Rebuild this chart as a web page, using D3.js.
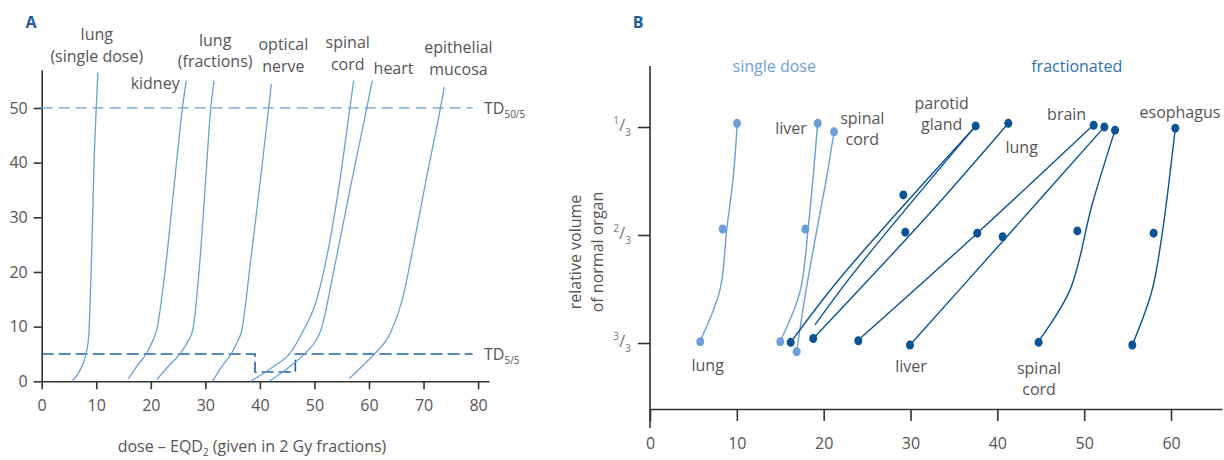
<!DOCTYPE html>
<html>
<head>
<meta charset="utf-8">
<script src="https://cdn.jsdelivr.net/npm/d3@7"></script>
<style>
body{margin:0;background:#fff;}
svg{display:block;font-family:"Open Sans",sans-serif;}
.lbl{fill:#555;font-size:16px;}
.axis path,.axis line{stroke:#333;stroke-width:1.6;}
.axis text{fill:#555;font-size:16px;font-family:"Open Sans",sans-serif;}
</style>
</head>
<body>
<svg id="chart" width="1224" height="460"></svg>
<script>
// ---- panel A: complication probability (%) vs dose EQD2 ----
var lungSingleA   = [[5.6,0],[7,2],[8,4.5],[8.6,8],[8.9,15],[9.2,25],[9.6,40],[10,50],[10.3,56.5]];
var kidneyA       = [[15.9,0.5],[17.4,2.7],[19.2,5.1],[20.4,7.5],[21.1,9.5],[22.6,20],[24.2,35],[25.8,50],[26.5,55]];
var lungFracA     = [[21.1,0.3],[23.2,2.7],[25.4,5.1],[26.8,7.3],[27.7,9.4],[29,22],[30,36],[31,50],[31.6,55]];
var opticA        = [[31.3,0],[33,2.7],[34.8,5.1],[35.9,7.3],[36.6,9],[38.3,22],[40,36],[41.6,50],[42.1,54.4]];
var spinalA       = [[38.3,0],[42.5,2.7],[45.5,5.1],[47.7,8.8],[50.4,14.9],[52.7,25],[54.7,37],[56.5,50],[57.2,55]];
var heartA        = [[41.7,0],[45.5,2.7],[48.3,5.1],[50.3,7.5],[51.2,9.4],[53.5,20],[56.5,35],[59.6,50],[60.6,55]];
var mucosaA       = [[56.4,0.5],[58.7,2.7],[61.1,5.1],[63.9,8.8],[66.1,14.9],[68.2,25],[70.3,36],[73.1,50],[73.8,53.8]];
var curvesA = [lungSingleA, kidneyA, lungFracA, opticA, spinalA, heartA, mucosaA];

var namesA     = [["lung","(single dose)"],["kidney"],["lung","(fractions)"],["optical","nerve"],["spinal","cord"],["heart"],["epithelial","mucosa"]];
var nameDoseA  = [10.1, 20.8, 31.8, 44.3, 56.1, 64.5, 76.4];
var nameLevelA = [61.4, 54.5, 60.4, 59.6, 60.0, 57.3, 59.1];

var td50Line = [[0,50],[79,50]];
var td5Steps = [[0,5],[39.1,5],[39.1,1.7],[46.5,1.7],[46.5,5],[79,5]];
var xTicksA = [0,10,20,30,40,50,60,70,80];
var yTicksA = [0,10,20,30,40,50];

// ---- panel B: tolerance dose vs relative volume ----
var singleLines = [
  [[5.76,0.994],[8.06,0.836],[8.83,0.651],[9.59,0.487],[10.05,0.322]],
  [[14.97,0.996],[17.27,0.842],[18.23,0.641],[19.31,0.322]],
  [[16.89,1.027],[17.85,0.857],[19.0,0.682],[20.35,0.487],[21.19,0.348]]
];
var singleDots = [[10.02,0.322],[8.37,0.648],[5.79,0.996],
                  [19.31,0.322],[17.88,0.648],[15.0,0.996],
                  [21.19,0.348],[16.89,1.027]];
var fracLines = [
  [[16.2,0.998],[21.88,0.80],[37.51,0.330]],
  [[19.0,0.944],[23.41,0.785],[37.51,0.330]],
  [[18.8,0.986],[32.24,0.599],[41.26,0.322]],
  [[23.99,0.991],[37.69,0.661],[51.05,0.327]],
  [[29.94,1.006],[40.65,0.685],[52.32,0.333]],
  [[44.71,0.996],[48.37,0.836],[50.9,0.574],[53.55,0.343]],
  [[55.54,1.006],[57.77,0.842],[58.96,0.667],[60.49,0.337]]
];
var fracDots = [[37.51,0.330],[29.17,0.543],[16.2,0.998],
                [41.26,0.322],[29.4,0.658],[18.8,0.986],
                [51.09,0.328],[37.69,0.661],[23.99,0.993],
                [52.32,0.333],[40.61,0.672],[29.94,1.006],
                [53.55,0.343],[49.21,0.654],[44.75,0.998],
                [60.49,0.337],[58.0,0.661],[55.54,1.006]];

var namesB    = [["liver"],["spinal","cord"],["parotid","gland"],["lung"],["brain"],["esophagus"],["lung"],["liver"],["spinal","cord"]];
var nameDoseB = [16.24, 24.45, 33.59, 42.8, 47.98, 61.03, 6.64, 30.06, 44.8];
var nameVolB  = [0.337, 0.339, 0.294, 0.396, 0.293, 0.289, 1.068, 1.073, 1.112];

var groupNames = ["single dose","fractionated"];
var groupDose  = [14.31, 49.14];
var groupVol   = [0.147, 0.147];

var xTicksB = [0,10,20,30,40,50,60];
var volTicks = [1/3, 2/3, 1];
var volNum = ["1","2","3"];

var lightBlue = "#6c9fd8", darkBlue = "#0b5394", midBlue = "#2f6fb3";

var svg = d3.select("#chart");

var addMultiline = function(g, lines, x, yCenter, spacing)
{
    var t = g.append("text").attr("class","lbl").attr("text-anchor","middle");
    lines.forEach(function(s,i){
        t.append("tspan")
         .attr("x",x)
         .attr("y",yCenter + (i-(lines.length-1)/2)*spacing)
         .attr("dy","0.35em")
         .text(s);
    });
    return t;
}

// ============ panel A ============
var xA = d3.scaleLinear().domain([0,82]).range([41.7,489]);
var yA = d3.scaleLinear().domain([0,57]).range([381.3,69.7]);

var gA = svg.append("g");

gA.append("g").attr("class","axis")
  .attr("transform","translate(0,"+yA(0)+")")
  .call(d3.axisBottom(xA).tickValues(xTicksA).tickSize(8).tickPadding(10).tickSizeOuter(0));
gA.append("g").attr("class","axis")
  .attr("transform","translate("+xA(0)+",0)")
  .call(d3.axisLeft(yA).tickValues(yTicksA).tickSize(8).tickPadding(6).tickSizeOuter(0));

var lineA = d3.line().x(function(d){return xA(d[0]);}).y(function(d){return yA(d[1]);});

gA.append("path").datum(td50Line)
  .attr("d",lineA).attr("fill","none")
  .attr("stroke",lightBlue).attr("stroke-width",1.3).attr("stroke-dasharray","11,6");
gA.append("path").datum(td5Steps)
  .attr("d",lineA).attr("fill","none")
  .attr("stroke","#1f62a6").attr("stroke-width",1.6).attr("stroke-dasharray","12,5");

gA.selectAll(".curveA").data(curvesA).enter().append("path")
  .attr("class","curveA")
  .attr("d",d3.line().curve(d3.curveMonotoneX).x(function(d){return xA(d[0]);}).y(function(d){return yA(d[1]);}))
  .attr("fill","none").attr("stroke",lightBlue).attr("stroke-width",1.3);

namesA.forEach(function(n,i){
    addMultiline(gA, n, xA(nameDoseA[i]), yA(nameLevelA[i]), 21.5);
});

var tdLab = function(level, sub)
{
    var t = gA.append("text").attr("class","lbl")
      .attr("x",484).attr("y",yA(level)).attr("dy","0.35em");
    t.append("tspan").text("TD");
    t.append("tspan").attr("dy","4").style("font-size","10px").text(sub);
}
tdLab(50,"50/5");
tdLab(5,"5/5");

var xt = gA.append("text").attr("class","lbl")
  .attr("text-anchor","middle").attr("x",252).attr("y",452);
xt.append("tspan").text("dose \u2013 EQD");
xt.append("tspan").attr("dy","4").style("font-size","10px").text("2");
xt.append("tspan").attr("dy","-4").text(" (given in 2 Gy fractions)");

svg.append("text").attr("x",31).attr("y",28).attr("text-anchor","middle")
  .style("font-weight","bold").style("font-size","16px").attr("fill","#1d5d9f").text("A");

// ============ panel B ============
var xB = d3.scaleLinear().domain([0,65.87]).range([650,1222]);
var yB = d3.scaleLinear().domain([1/3,1]).range([127,343]);
var frameB = {top:66, axisY:409, bottom:428};

var gB = svg.append("g");

gB.append("g").attr("class","axis")
  .attr("transform","translate(0,"+frameB.axisY+")")
  .call(d3.axisBottom(xB).tickValues(xTicksB).tickSize(12).tickPadding(17).tickSizeOuter(0));

var yAxB = gB.append("g").attr("class","axis")
  .attr("transform","translate("+xB(0)+",0)")
  .call(d3.axisLeft(yB).tickValues(volTicks).tickSize(12).tickSizeOuter(0).tickFormat(""));
yAxB.select(".domain").remove();
yAxB.append("line").attr("x1",0).attr("x2",0)
  .attr("y1",frameB.top).attr("y2",frameB.bottom)
  .attr("stroke","#333").attr("stroke-width",1.6);

volTicks.forEach(function(v,i){
    var t = gB.append("text").attr("text-anchor","end").attr("fill","#777")
      .attr("x",xB(0)-19).attr("y",yB(v)+4);
    t.append("tspan").attr("dy","-7").style("font-size","10px").text(volNum[i]);
    t.append("tspan").attr("dy","7").style("font-size","17px").text("/");
    t.append("tspan").attr("dy","5").style("font-size","10px").text("3");
});

addMultiline(gB, ["relative volume","of normal organ"], 0, 0, 22)
  .attr("transform","translate(586,252) rotate(-90)");

var lineB = d3.line().curve(d3.curveCatmullRom.alpha(0.5))
  .x(function(d){return xB(d[0]);}).y(function(d){return yB(d[1]);});

gB.selectAll(".sLine").data(singleLines).enter().append("path")
  .attr("class","sLine").attr("d",lineB)
  .attr("fill","none").attr("stroke",lightBlue).attr("stroke-width",1.4);
gB.selectAll(".fLine").data(fracLines).enter().append("path")
  .attr("class","fLine").attr("d",lineB)
  .attr("fill","none").attr("stroke",darkBlue).attr("stroke-width",1.4);

gB.selectAll(".sDot").data(singleDots).enter().append("ellipse")
  .attr("class","sDot")
  .attr("cx",function(d){return xB(d[0]);}).attr("cy",function(d){return yB(d[1]);})
  .attr("rx",4).attr("ry",4.5).attr("fill",lightBlue);
gB.selectAll(".fDot").data(fracDots).enter().append("ellipse")
  .attr("class","fDot")
  .attr("cx",function(d){return xB(d[0]);}).attr("cy",function(d){return yB(d[1]);})
  .attr("rx",4).attr("ry",4.5).attr("fill",darkBlue);

namesB.forEach(function(n,i){
    addMultiline(gB, n, xB(nameDoseB[i]), yB(nameVolB[i]), 21);
});

groupNames.forEach(function(n,i){
    addMultiline(gB, [n], xB(groupDose[i]), yB(groupVol[i]), 0)
      .style("fill", i==0 ? lightBlue : midBlue);
});

svg.append("text").attr("x",638).attr("y",28).attr("text-anchor","middle")
  .style("font-weight","bold").style("font-size","16px").attr("fill","#1d5d9f").text("B");
</script>
</body>
</html>
